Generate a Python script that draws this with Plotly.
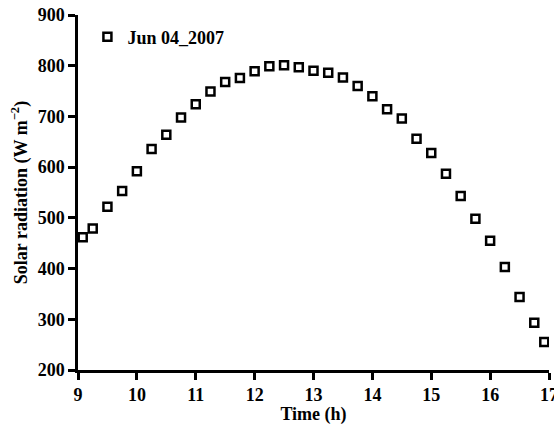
import plotly.graph_objects as go

time_h = [9.08, 9.25, 9.5, 9.75, 10.0, 10.25, 10.5, 10.75, 11.0, 11.25, 11.5, 11.75,
          12.0, 12.25, 12.5, 12.75, 13.0, 13.25, 13.5, 13.75, 14.0, 14.25, 14.5, 14.75,
          15.0, 15.25, 15.5, 15.75, 16.0, 16.25, 16.5, 16.75, 16.92]
radiation = [462, 479, 522, 553, 592, 636, 664, 698, 724, 749, 768, 776,
             789, 799, 801, 797, 790, 786, 777, 760, 740, 714, 696, 656,
             628, 587, 543, 498, 455, 403, 344, 293, 255]
series_name = "Jun 04_2007"
x_ticks = [9, 10, 11, 12, 13, 14, 15, 16, 17]
y_ticks = [200, 300, 400, 500, 600, 700, 800, 900]

FONT = "Liberation Serif"

fig = go.Figure()
fig.add_trace(go.Scatter(
    x=time_h, y=radiation, mode="markers", name=series_name,
    marker=dict(symbol="square-open", size=8, color="black",
                line=dict(width=2.5, color="black")),
))

axis_common = dict(
    showline=True, linecolor="black", linewidth=2.5,
    ticks="outside", ticklen=7, tickwidth=2.5, tickcolor="black",
    showgrid=False, zeroline=False, mirror=False,
    ticklabeloverflow="allow",
    tickfont=dict(family=FONT, size=18, color="black", weight="bold"),
)

fig.update_layout(
    width=554, height=425,
    margin=dict(l=78, r=5, t=15, b=52),
    paper_bgcolor="white", plot_bgcolor="white",
    showlegend=True,
    legend=dict(x=0.02, y=0.99, xanchor="left", yanchor="top",
                bgcolor="rgba(0,0,0,0)",
                font=dict(family=FONT, size=18, color="black", weight="bold")),
    xaxis=dict(range=[9, 17], tickvals=x_ticks, automargin="bottom",
               title=dict(text="Time (h)", standoff=2,
                          font=dict(family=FONT, size=18, color="black", weight="bold")),
               **axis_common),
    yaxis=dict(range=[200, 900], tickvals=y_ticks, automargin="left",
               title=dict(text="Solar radiation (W m<sup>−2</sup>)", standoff=6,
                          font=dict(family=FONT, size=18, color="black", weight="bold")),
               **axis_common),
)

fig.write_html("out.html")
